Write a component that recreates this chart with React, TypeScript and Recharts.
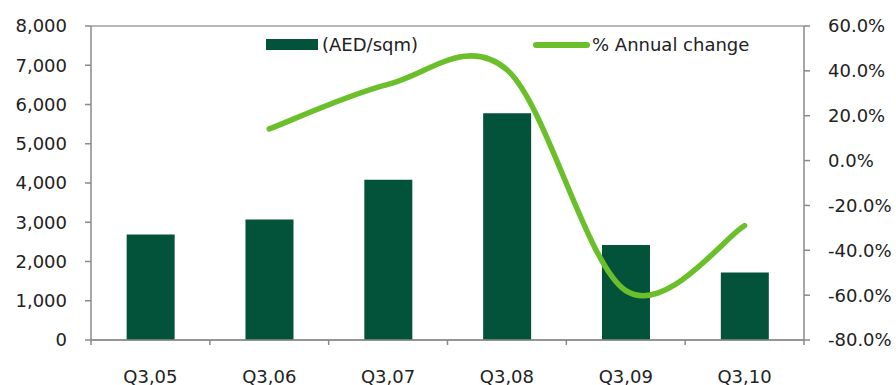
import React from "react";
import { ComposedChart, Bar, Line, XAxis, YAxis, CartesianGrid } from "recharts";

const categories = ["Q3,05", "Q3,06", "Q3,07", "Q3,08", "Q3,09", "Q3,10"];
const priceAED = [2690, 3070, 4080, 5780, 2420, 1720];
const annualChange: (number | null)[] = [null, 14.1, 34.0, 40.5, -58.0, -29.0];
const leftTicks = [0, 1000, 2000, 3000, 4000, 5000, 6000, 7000, 8000];
const rightTicks = [-80, -60, -40, -20, 0, 20, 40, 60];

const data = categories.map((c, i) => ({ cat: c, price: priceAED[i], change: annualChange[i] }));

const FONT = "'DejaVu Sans', sans-serif";
const BAR_COLOR = "#03523a";
const LINE_COLOR = "#6abf2a";
const AXIS_COLOR = "#8a8a8a";
const TICK_SIZE = 5;
const TICK_MARGIN = 25;

// Excel-like smoothing: uniform Catmull-Rom (cardinal, tension 0) as a d3-style curve factory
function smoothCurve(context: any) {
  let pts: [number, number][] = [];
  return {
    areaStart() {},
    areaEnd() {},
    lineStart() {
      pts = [];
    },
    point(x: number, y: number) {
      pts.push([+x, +y]);
    },
    lineEnd() {
      const n = pts.length;
      if (n === 0) return;
      context.moveTo(pts[0][0], pts[0][1]);
      if (n === 1) return;
      for (let i = 0; i < n - 1; i++) {
        const p0 = pts[i - 1] || pts[i];
        const p1 = pts[i];
        const p2 = pts[i + 1];
        const p3 = pts[i + 2] || pts[i + 1];
        const c1x = p1[0] + (p2[0] - p0[0]) / 6;
        const c1y = p1[1] + (p2[1] - p0[1]) / 6;
        const c2x = p2[0] - (p3[0] - p1[0]) / 6;
        const c2y = p2[1] - (p3[1] - p1[1]) / 6;
        context.bezierCurveTo(c1x, c1y, c2x, c2y, p2[0], p2[1]);
      }
    },
  };
}

const XTick = (props: any) => {
  const { x, y, payload, index, visibleTicksCount, width } = props;
  const band = width / visibleTicksCount;
  const top = y - TICK_MARGIN - TICK_SIZE;
  return (
    <g>
      <line x1={x - band / 2} x2={x - band / 2} y1={top} y2={top + TICK_SIZE} stroke={AXIS_COLOR} strokeWidth={1.5} />
      {index === visibleTicksCount - 1 && (
        <line x1={x + band / 2} x2={x + band / 2} y1={top} y2={top + TICK_SIZE} stroke={AXIS_COLOR} strokeWidth={1.5} />
      )}
      <text x={x} y={y} dy="0.71em" textAnchor="middle" fill="#222" fontSize={18} fontFamily={FONT}>
        {payload.value}
      </text>
    </g>
  );
};

const LegendOverlay = () => (
  <div style={{ position: "absolute", left: 0, top: 34, width: 896, height: 22, fontFamily: FONT, fontSize: 18, color: "#222", lineHeight: "22px" }}>
    <div style={{ position: "absolute", left: 266, top: 5, width: 52, height: 11, background: BAR_COLOR }} />
    <div style={{ position: "absolute", left: 322, top: 0, whiteSpace: "nowrap" }}>(AED/sqm)</div>
    <div style={{ position: "absolute", left: 533, top: 8, width: 57, height: 6, borderRadius: 3, background: LINE_COLOR }} />
    <div style={{ position: "absolute", left: 592, top: 0, whiteSpace: "nowrap" }}>% Annual change</div>
  </div>
);

export default function App() {
  return (
    <div style={{ position: "absolute", left: 0, top: 0, width: 896, height: 385 }}>
      <ComposedChart width={896} height={385} data={data} margin={{ top: 26, right: 0, left: 0, bottom: 0 }} barCategoryGap="30%">
        <CartesianGrid vertical={false} stroke="#a0a0a0" strokeWidth={1.5} />
        <XAxis
          dataKey="cat"
          height={45}
          tickLine={false}
          tickSize={TICK_SIZE}
          tickMargin={TICK_MARGIN}
          stroke={AXIS_COLOR}
          strokeWidth={1.5}
          tick={<XTick />}
          interval={0}
        />
        <YAxis
          yAxisId="left"
          width={91}
          domain={[0, 8000]}
          ticks={leftTicks}
          tickFormatter={(v: number) => v.toLocaleString("en-US")}
          tickSize={6}
          tickMargin={18}
          stroke={AXIS_COLOR}
          strokeWidth={1.5}
          tick={{ fill: "#222", fontSize: 18, fontFamily: FONT }}
          interval={0}
        />
        <YAxis
          yAxisId="right"
          orientation="right"
          width={92}
          domain={[-80, 60]}
          ticks={rightTicks}
          tickFormatter={(v: number) => `${v.toFixed(1)}%`}
          tickSize={6}
          tickMargin={18}
          stroke={AXIS_COLOR}
          strokeWidth={1.5}
          tick={{ fill: "#222", fontSize: 18, fontFamily: FONT, textAnchor: "start" }}
          interval={0}
        />
        <Bar yAxisId="left" dataKey="price" name="(AED/sqm)" fill={BAR_COLOR} isAnimationActive={false} />
        <Line
          yAxisId="right"
          dataKey="change"
          name="% Annual change"
          type={smoothCurve as any}
          stroke={LINE_COLOR}
          strokeWidth={5.5}
          strokeLinecap="round"
          dot={false}
          activeDot={false}
          isAnimationActive={false}
        />
      </ComposedChart>
      <LegendOverlay />
    </div>
  );
}
